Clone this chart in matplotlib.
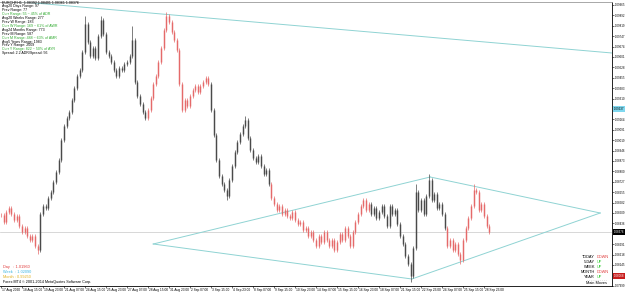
import matplotlib
matplotlib.use("Agg")
import matplotlib.pyplot as plt
import matplotlib.transforms as mtransforms
from matplotlib import font_manager

installed = {f.name for f in font_manager.fontManager.ttflist}
narrow = "Liberation Sans Narrow" if "Liberation Sans Narrow" in installed else "Liberation Sans"
plt.rcParams['font.family'] = [narrow, 'DejaVu Sans']

# H4 closes from 17 Aug 2020 00:00 (x axis counts trading hours)
closes = [
    1.08495, 1.08446, 1.08516, 1.08544, 1.08502, 1.08460, 1.08488, 1.08418, 1.08376, 1.08404,
    1.08348, 1.08320, 1.08348, 1.08278, 1.08250, 1.08502, 1.08558, 1.08544, 1.08614, 1.08656,
    1.08726, 1.08796, 1.08880, 1.09020, 1.09118, 1.09174, 1.09216, 1.09300, 1.09384, 1.09468,
    1.09510, 1.09636, 1.09832, 1.09706, 1.09608, 1.09664, 1.09594, 1.09748, 1.09860, 1.09762,
    1.09636, 1.09608, 1.09566, 1.09510, 1.09468, 1.09524, 1.09510, 1.09552, 1.09566, 1.09608,
    1.09720, 1.09426, 1.09328, 1.09272, 1.09216, 1.09174, 1.09230, 1.09314, 1.09412, 1.09468,
    1.09566, 1.09664, 1.09790, 1.09888, 1.09846, 1.09776, 1.09720, 1.09650, 1.09412, 1.09230,
    1.09300, 1.09258, 1.09328, 1.09370, 1.09398, 1.09356, 1.09398, 1.09426, 1.09454, 1.09412,
    1.09230, 1.09055, 1.08880, 1.08768, 1.08712, 1.08670, 1.08628, 1.08740, 1.08838, 1.08936,
    1.09006, 1.09062, 1.09118, 1.09160, 1.09034, 1.08950, 1.08894, 1.08866, 1.08908, 1.08838,
    1.08782, 1.08810, 1.08712, 1.08614, 1.08572, 1.08530, 1.08558, 1.08502, 1.08530, 1.08488,
    1.08474, 1.08516, 1.08460, 1.08432, 1.08446, 1.08390, 1.08404, 1.08348, 1.08376, 1.08320,
    1.08278, 1.08348, 1.08306, 1.08376, 1.08320, 1.08278, 1.08320, 1.08250, 1.08306, 1.08362,
    1.08320, 1.08404, 1.08348, 1.08278, 1.08376, 1.08446, 1.08502, 1.08558, 1.08600, 1.08530,
    1.08572, 1.08502, 1.08544, 1.08474, 1.08516, 1.08558, 1.08488, 1.08418, 1.08558, 1.08502,
    1.08530, 1.08432, 1.08348, 1.08292, 1.08208, 1.08152, 1.08068, 1.08264, 1.08656, 1.08530,
    1.08600, 1.08502, 1.08628, 1.08740, 1.08600, 1.08642, 1.08544, 1.08572, 1.08502, 1.08404,
    1.08278, 1.08320, 1.08250, 1.08292, 1.08222, 1.08180, 1.08320, 1.08404, 1.08474, 1.08558,
    1.08670, 1.08656, 1.08530, 1.08572, 1.08488, 1.08418, 1.08376,
]
hours_per_bar = 4
# wicks that stick out past the bodies
extra_high = {32: 1.09874, 38: 1.09880, 50: 1.09804, 63: 1.09902, 93: 1.09174,
              158: 1.08698, 163: 1.08768, 180: 1.08698}
extra_low = {14: 1.08236, 86: 1.08614, 156: 1.08040, 175: 1.08166}
# stretches of candles shown in red, the rest dark grey
red_spans = [(0, 14), (56, 79), (103, 140), (170, 186)]

date_labels = ["17 Aug 2020", "18 Aug 15:00", "19 Aug 23:00", "21 Aug 07:00", "24 Aug 15:00",
               "25 Aug 23:00", "27 Aug 07:00", "28 Aug 15:00", "31 Aug 23:00", "2 Sep 07:00",
               "3 Sep 15:00", "4 Sep 23:00", "8 Sep 07:00", "9 Sep 15:00", "10 Sep 23:00",
               "14 Sep 07:00", "15 Sep 15:00", "16 Sep 23:00", "18 Sep 07:00", "21 Sep 15:00",
               "22 Sep 23:00", "24 Sep 07:00", "25 Sep 15:00", "28 Sep 23:00"]
date_step = 32

# trend lines: (hour, price) end points
trend_lines = [
    ((-1.5, 1.10000), (931, 1.09629)),
    ((232, 1.08292), (654, 1.08761)),
    ((654, 1.08761), (913, 1.08509)),
    ((913, 1.08509), (626, 1.08047)),
    ((626, 1.08047), (232, 1.08292)),
]
bid = 1.08376
level_red = 1.08068
level_blue = 1.09237

info_lines = [
    ("EURCHF,H1  1.08392 1.08401 1.08361 1.08376", "black"),
    ("Avg20 Days Range: 97", "black"),
    ("Prev Range: 77", "black"),
    ("Curr Range: 55 ~ 45% of ADR", "#2faa2f"),
    ("Avg20 Weeks Range: 277", "black"),
    ("Prev W Range: 183", "black"),
    ("Curr W Range: 169 ~ 61% of AWR", "#2faa2f"),
    ("Avg24 Months Range: 773", "black"),
    ("Prev M Range: 587", "black"),
    ("Curr M Range: 488 ~ 63% of AMR", "#2faa2f"),
    ("Avg5 Years Range: 1983", "black"),
    ("Prev Y Range: 2009", "black"),
    ("Curr Y Range: 822 ~ 50% of AYR", "#2faa2f"),
    ("Spread: 2.2 ADR/Spread: 56", "black"),
]
pivots = [("Day   : 1.01960", "#e03a3a"), ("Week  : 1.02090", "#3ab4e0"),
          ("Month : 0.99250", "#e0b020")]
moves = [("TODAY", "DOWN"), ("5-DAY", "UP"), ("WEEK", "UP"), ("MONTH", "DOWN"), ("YEAR", "UP")]

W, H = 625, 293
fig = plt.figure(figsize=(W / 100, H / 100), dpi=100)
ax = fig.add_axes([0, 7 / H, 612 / W, 284 / H])
ax.set_xlim(-1.5, 931)
ax.set_ylim(1.07998, 1.09986)

ax.axhline(bid, color="#c8c8c8", lw=0.5, zorder=1)
for (x0, y0), (x1, y1) in trend_lines:
    ax.plot([x0, x1], [y0, y1], color="#8fd3d3", lw=0.7, zorder=2)

def is_red(i):
    return any(a <= i <= b for a, b in red_spans)

for i, c in enumerate(closes):
    o = closes[i - 1] if i else c
    lo = min(o, c, extra_low.get(i, c))
    hi = max(o, c, extra_high.get(i, c))
    col = "#e56a6a" if is_red(i) else "#4a4a4a"
    x = i * hours_per_bar
    ax.vlines(x, lo - 0.00011, hi + 0.00011, color=col, lw=0.5, zorder=3)
    ax.vlines(x, min(o, c) - 0.00003, max(o, c) + 0.00003, color=col, lw=1.05, zorder=3)

# axes look
ax.spines["left"].set_visible(False)
ax.spines["top"].set_color("#9a9a9a")
ax.spines["top"].set_linewidth(0.6)
for s in ("right", "bottom"):
    ax.spines[s].set_linewidth(0.6)

ax.yaxis.tick_right()
marked = [bid, level_red, level_blue]
yticks = [1.09965 - 0.000728 * k for k in range(28)]
yticks = [v for v in yticks if all(abs(v - m) > 0.0003 for m in marked)]
ax.set_yticks(yticks)
ax.set_yticklabels([f"{v:.5f}" for v in yticks])
ax.tick_params(axis="y", length=1.2, width=0.4, pad=0.5, labelsize=2.1)

ax.set_xticks([k * date_step for k in range(len(date_labels))])
ax.set_xticklabels(date_labels)
ax.tick_params(axis="x", length=1.5, width=0.4, pad=0.2, labelsize=2.3)
shift = mtransforms.ScaledTranslation(0.8 / 100, 0, fig.dpi_scale_trans)
for lab in ax.get_xticklabels():
    lab.set_ha("left")
    lab.set_transform(lab.get_transform() + shift)

# highlighted price labels on the scale
ytr = mtransforms.blended_transform_factory(ax.transAxes, ax.transData)
for val, bg, fg in [(bid, "black", "white"), (level_red, "#c81e1e", "white"),
                    (level_blue, "#7fd8ef", "black")]:
    ax.text(1.0025, val, f"{val:.5f}", transform=ytr, fontsize=2.1, color=fg, va="center",
            ha="left", bbox=dict(boxstyle="square,pad=0.2", fc=bg, ec="none"), zorder=5,
            clip_on=False)

def fx(x):
    return x / W

def fy(y):
    return 1 - y / H

for k, (txt, col) in enumerate(info_lines):
    fig.text(fx(2), fy(2.5 + 3.9 * k), txt, color=col, fontsize=2.6, va="center", ha="left")

for k, (txt, col) in enumerate(pivots):
    fig.text(fx(3), fy(267 + 5 * k), txt, color=col, fontsize=2.8, va="center", ha="left")
fig.text(fx(3), fy(282), "Forex MT4 \u00a9 2001-2014 MetaQuotes Software Corp.", color="black",
         fontsize=2.7, va="center", ha="left")

for k, (lab, val) in enumerate(moves):
    fig.text(fx(595), fy(257 + 5 * k), lab, color="black", fontsize=2.8, va="center", ha="right")
    fig.text(fx(597), fy(257 + 5 * k), val, color="#e03a3a" if val == "DOWN" else "#33cc33",
             fontsize=2.8, va="center", ha="left")
fig.text(fx(597), fy(280.2), "- - - - - - - - - - -", color="#888888", fontsize=2.2,
         va="center", ha="center")
fig.text(fx(597), fy(283.3), "Main Moves", color="black", fontsize=2.8, va="center", ha="center")

fig.savefig("out.png", dpi=100)
